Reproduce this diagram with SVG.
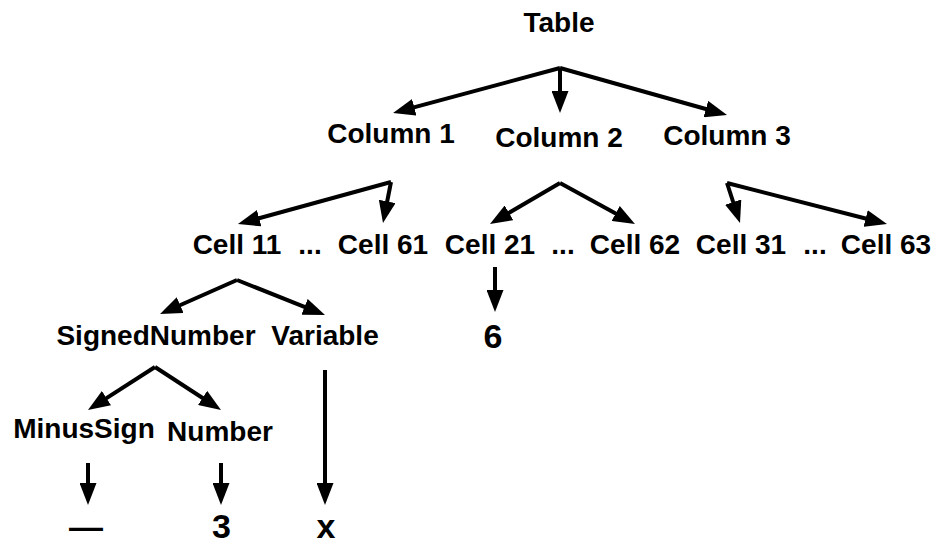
<svg xmlns="http://www.w3.org/2000/svg" width="936" height="546" viewBox="0 0 936 546">
<style>
text{font-family:"Liberation Sans",Arial,sans-serif;font-weight:bold;font-size:28px;fill:#000;text-anchor:middle}
text.leaf{font-size:34px}
.c line{stroke:#000;stroke-width:4;fill:none;marker-end:url(#ah)}
</style>
<defs>
<marker id="ah" markerUnits="userSpaceOnUse" markerWidth="22" markerHeight="17" refX="12" refY="8.5" orient="auto" viewBox="0 0 22 17">
<path d="M0,0 L22,8.5 L0,17 z" fill="#000"/>
</marker>
</defs>
<rect width="936" height="546" fill="#fff"/>
<g class="c" id="connectors">
<line x1="560" y1="68" x2="402.7" y2="110.4"/>
<line x1="560" y1="68" x2="560" y2="103"/>
<line x1="560" y1="68" x2="717.4" y2="112.3"/>
<line x1="391" y1="182" x2="247.6" y2="221.4"/>
<line x1="391" y1="182" x2="384.9" y2="213.2"/>
<line x1="560" y1="183" x2="498.6" y2="218.9"/>
<line x1="560" y1="183" x2="626.2" y2="219.2"/>
<line x1="727" y1="183" x2="736.9" y2="213.5"/>
<line x1="727" y1="183" x2="877.3" y2="221.5"/>
<line x1="237" y1="280" x2="169.2" y2="310"/>
<line x1="237" y1="280" x2="315.7" y2="311.3"/>
<line x1="155" y1="367" x2="96.4" y2="404.6"/>
<line x1="155" y1="367" x2="212.6" y2="404.5"/>
<line x1="88" y1="463" x2="88" y2="495"/>
<line x1="221" y1="463" x2="221" y2="495"/>
<line x1="325" y1="370" x2="325" y2="495"/>
<line x1="495" y1="267" x2="495" y2="302"/>
</g>
<g id="table"><text x="559" y="32">Table</text></g>
<g id="column1"><text x="391" y="143">Column 1</text></g>
<g id="column2"><text x="559" y="147">Column 2</text></g>
<g id="column3"><text x="727" y="145">Column 3</text></g>
<g id="cell11"><text x="237" y="254">Cell 11</text></g>
<g id="dots1"><text x="310" y="254">...</text></g>
<g id="cell61"><text x="383" y="254">Cell 61</text></g>
<g id="cell21"><text x="490" y="254">Cell 21</text></g>
<g id="dots2"><text x="563" y="254">...</text></g>
<g id="cell62"><text x="635" y="254">Cell 62</text></g>
<g id="cell31"><text x="741" y="254">Cell 31</text></g>
<g id="dots3"><text x="815" y="254">...</text></g>
<g id="cell63"><text x="886" y="254">Cell 63</text></g>
<g id="six"><text class="leaf" x="493" y="348">6</text></g>
<g id="signednumber"><text x="156" y="345">SignedNumber</text></g>
<g id="variable"><text x="325" y="345">Variable</text></g>
<g id="minussign"><text x="84" y="438">MinusSign</text></g>
<g id="number"><text x="220" y="441">Number</text></g>
<g id="dash"><text class="leaf" x="86" y="538">—</text></g>
<g id="three"><text class="leaf" x="221.5" y="538">3</text></g>
<g id="x"><text class="leaf" x="326" y="538">x</text></g>
</svg>
